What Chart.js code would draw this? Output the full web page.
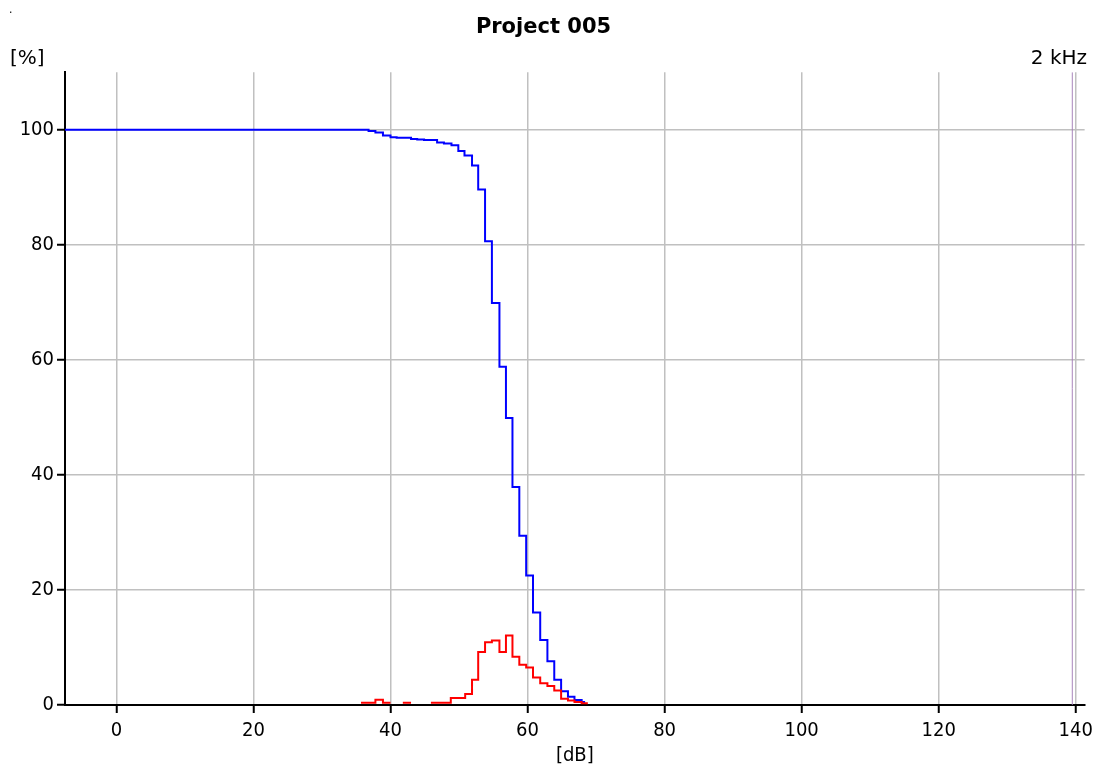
<!DOCTYPE html>
<html>
<head>
<meta charset="utf-8">
<title>Project 005</title>
<script src="https://cdn.jsdelivr.net/npm/chart.js@4/dist/chart.umd.min.js"></script>
<style>
  html, body { margin: 0; padding: 0; background: #fff; }
  #wrap { width: 1099px; height: 772px; }
</style>
</head>
<body>
<div id="wrap"><canvas id="chart" width="1099" height="772"></canvas></div>
<script>
// cumulative curve (blue), step values
const blueDb = [-7.5, 36.8, 37.8, 38.9, 40.0, 40.9, 43.0, 43.9, 44.9, 46.8, 47.8, 48.9, 49.9, 50.8, 51.9, 52.8, 53.8, 54.8, 55.9, 56.85, 57.8, 58.8, 59.8, 60.8, 61.85, 62.9, 63.9, 64.9, 65.9, 66.85, 67.9, 68.4];
const bluePct = [100.0, 99.8, 99.5, 99.0, 98.7, 98.6, 98.4, 98.3, 98.2, 97.8, 97.6, 97.3, 96.3, 95.5, 93.8, 89.6, 80.6, 69.9, 58.8, 49.9, 37.9, 29.4, 22.5, 16.1, 11.3, 7.6, 4.4, 2.4, 1.45, 0.87, 0.5, 0.5];

// distribution (red), null = zero (hidden under the axis)
const redDb = [35.7, 37.8, 38.9, 40.0, 40.9, 41.8, 43.0, 44.5, 45.9, 48.8, 50.9, 51.9, 52.8, 53.8, 54.8, 55.9, 56.85, 57.8, 58.8, 59.8, 60.8, 61.85, 62.9, 63.9, 64.9, 65.9, 66.85, 67.9, 68.8];
const redPct = [0.4, 0.9, 0.4, 0.4, null, 0.4, 0.4, null, 0.4, 1.2, 1.9, 4.4, 9.2, 10.9, 11.2, 9.2, 12.1, 8.4, 7.0, 6.5, 4.8, 3.8, 3.3, 2.5, 1.1, 0.8, 0.5, 0.3, 0.3];

// marker line near the right edge
const markerDb = [139.5, 139.5];
const markerPct = [0, 110];

const xTicks = [0, 20, 40, 60, 80, 100, 120, 140];
const yTicks = [0, 20, 40, 60, 80, 100];

const toPoints = (xs, ys) => xs.map((x, i) => ({ x: x, y: ys[i] }));

const FONT = "'DejaVu Sans Condensed', 'DejaVu Sans', sans-serif";
const WIDE_FONT = "'DejaVu Sans', sans-serif";

const cornerLabels = {
  id: "cornerLabels",
  afterDraw(chart) {
    const ctx = chart.ctx;
    ctx.save();
    ctx.fillStyle = "#000";
    ctx.font = "20px " + WIDE_FONT;
    ctx.textBaseline = "middle";
    ctx.textAlign = "left";
    ctx.fillText("[%]", 10, 59);
    ctx.textAlign = "right";
    ctx.fillText("2 kHz", 1087, 59);
    ctx.font = "12px " + FONT;
    ctx.textAlign = "left";
    ctx.fillText(".", 9, 10);
    ctx.restore();
  },
};

const config = {
  type: "line",
  data: {
    datasets: [
      {
        label: "marker",
        data: toPoints(markerDb, markerPct),
        borderColor: "rgba(160,120,180,0.9)",
        borderWidth: 1,
        pointRadius: 0,
      },
      {
        label: "distribution",
        data: toPoints(redDb, redPct),
        borderColor: "#ff0000",
        borderWidth: 2,
        stepped: "before",
        spanGaps: false,
        pointRadius: 0,
      },
      {
        label: "cumulative",
        data: toPoints(blueDb, bluePct),
        borderColor: "#0000ff",
        borderWidth: 2,
        stepped: "before",
        pointRadius: 0,
      },
    ],
  },
  options: {
    responsive: false,
    animation: false,
    events: [],
    layout: { padding: { left: 0, right: 12, top: 0, bottom: 0 } },
    plugins: {
      legend: { display: false },
      tooltip: { enabled: false },
      title: {
        display: true,
        text: "Project 005",
        color: "#000",
        font: { family: WIDE_FONT, size: 21, weight: "bold" },
        padding: { top: 15, bottom: 32 },
      },
    },
    scales: {
      x: {
        type: "linear",
        min: -7.5,
        max: 141.3,
        afterBuildTicks: (s) => { s.ticks = xTicks.map((v) => ({ value: v })); },
        afterFit: (s) => { s.height = 67; },
        ticks: { color: "#000", font: { family: FONT, size: 20 }, padding: 6, maxRotation: 0 },
        grid: { color: "#c0c0c0", lineWidth: 1.5, tickColor: "#000", tickLength: 8, tickWidth: 2 },
        border: { color: "#000", width: 2 },
        title: {
          display: true,
          text: "[dB]",
          color: "#000",
          font: { family: FONT, size: 20 },
          padding: { top: 0, bottom: 4 },
        },
      },
      y: {
        type: "linear",
        min: 0,
        max: 110,
        afterBuildTicks: (s) => { s.ticks = yTicks.map((v) => ({ value: v })); },
        afterFit: (s) => { s.width = 65; },
        ticks: { color: "#000", font: { family: FONT, size: 20 }, padding: 3 },
        grid: { color: "#c0c0c0", lineWidth: 1.5, tickColor: "#000", tickLength: 8, tickWidth: 2 },
        border: { color: "#000", width: 2 },
      },
    },
  },
  plugins: [cornerLabels],
};

const chartJs = document.querySelector("#chart");
let mychart = new Chart(chartJs, config);
</script>
</body>
</html>
